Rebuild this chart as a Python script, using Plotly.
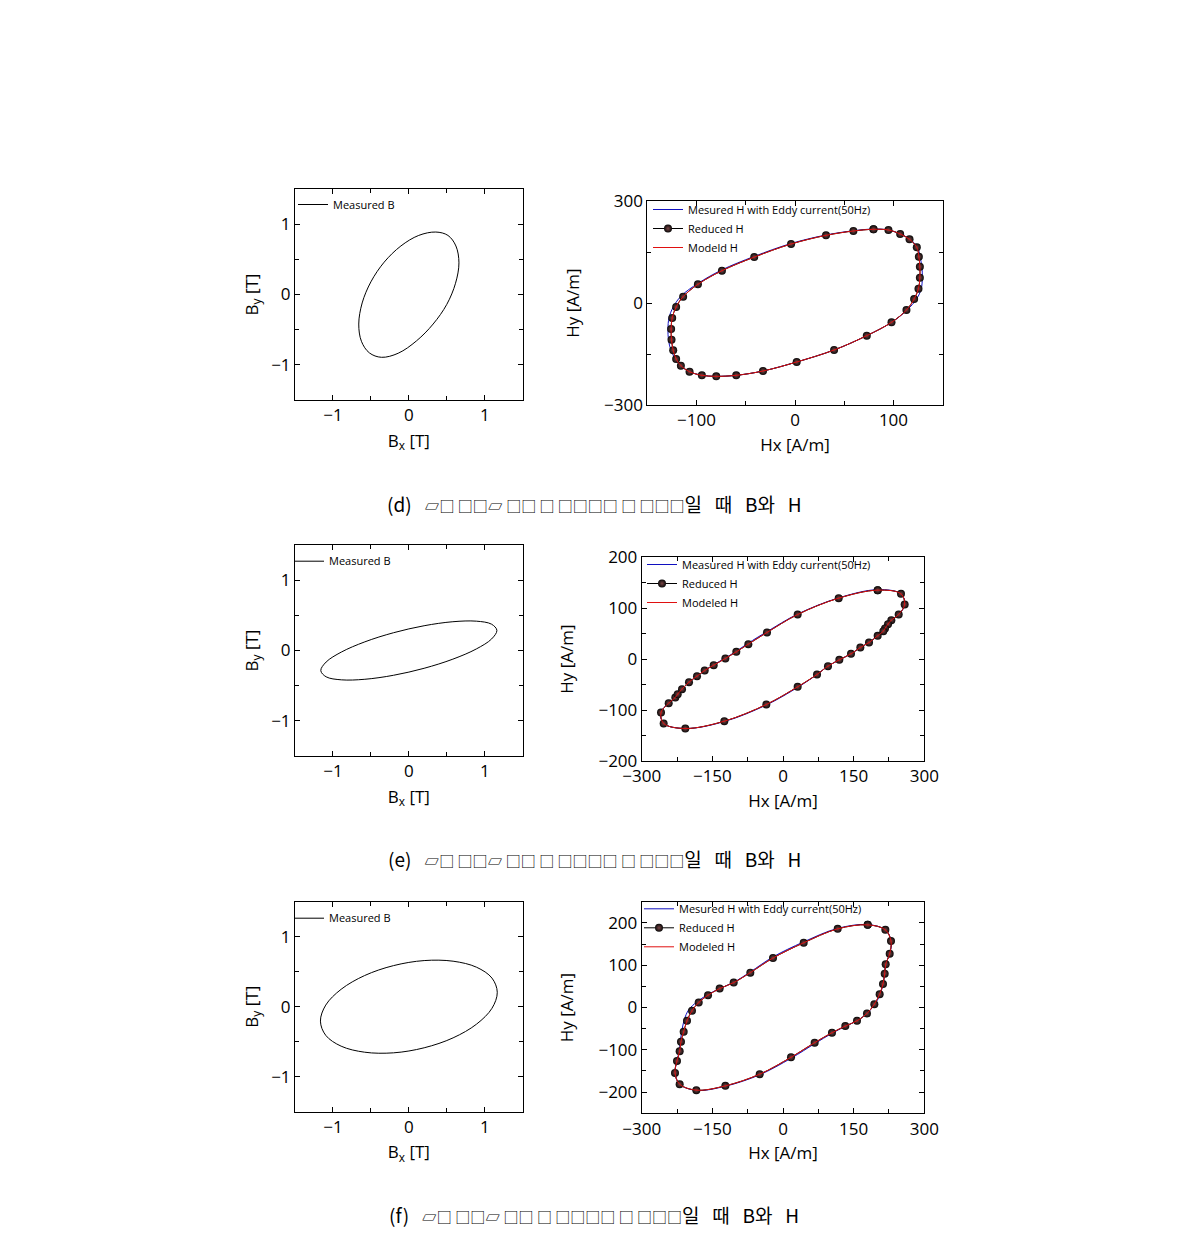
import plotly.graph_objects as go

# ---------------- (d) ----------------
bx_d = [0.66, 0.62, 0.515, 0.355, 0.13, -0.105, -0.325, -0.50, -0.615, -0.66, -0.625, -0.52,
        -0.36, -0.14, 0.10, 0.32, 0.50, 0.615]
by_d = [0.45, 0.69, 0.84, 0.888, 0.84, 0.69, 0.46, 0.18, -0.12, -0.42, -0.665, -0.83,
        -0.893, -0.835, -0.66, -0.42, -0.14, 0.16]

hx_red_d = [79.7, 59.3, 31.5, -4.0, -41.4, -74.2, -98.6, -113.6, -120.7, -124.7, -125.8, -125.4,
            -123.7, -120.7, -115.9, -107.1, -94.6, -80.0, -59.7, -32.5, 1.7, 39.7, 72.9, 98.0,
            113.2, 121.0, 125.4, 126.8, 126.8, 125.8, 123.7, 116.3, 106.8, 94.9]
hy_red_d = [216.7, 211.8, 199.0, 173.5, 135.0, 95.0, 55.0, 18.6, -11.8, -44.0, -76.5, -107.8,
            -139.0, -164.7, -184.3, -202.0, -212.7, -215.7, -212.7, -200.0, -173.5, -138.2, -96.0, -56.9,
            -20.6, 11.8, 42.0, 74.5, 106.9, 136.3, 163.7, 187.3, 203.0, 214.7]
hx_blue_d = [79.7, 59.3, 31.5, -4.0, -41.4, -74.2, -98.6, -115.5, -123.5, -128.0, -129.0, -128.5,
             -126.0, -121.5, -116.3, -107.1, -94.6, -80.0, -59.7, -32.5, 1.7, 39.7, 72.9, 98.0,
             113.8, 123.5, 128.2, 129.3, 128.8, 127.0, 124.5, 116.8, 106.8, 94.9]
hy_blue_d = [217.5, 212.5, 200.0, 175.0, 137.0, 97.5, 57.5, 21.0, -11.0, -44.0, -76.5, -107.8,
             -139.0, -164.7, -184.3, -202.0, -212.7, -215.7, -212.7, -200.0, -173.5, -138.2, -96.0, -56.9,
             -20.6, 11.8, 42.0, 74.5, 106.9, 136.3, 164.0, 187.3, 203.0, 214.7]

# ---------------- (e) ----------------
bx_e = [1.16, 1.09, 0.889, 0.58, 0.201, -0.201, -0.58, -0.889, -1.09, -1.16, -1.09, -0.889,
        -0.58, -0.201, 0.201, 0.58, 0.889, 1.09]
by_e = [0.286, 0.374, 0.417, 0.409, 0.352, 0.253, 0.123, -0.022, -0.164, -0.286, -0.374, -0.417,
        -0.409, -0.352, -0.253, -0.123, 0.022, 0.164]

hx_red_e = [201.0, 250.5, 258.3, 245.6, 230.0, 223.0, 216.6, 213.0, 201.0, 182.6, 164.2, 144.4, 119.6,
            95.5, 72.2, 31.1, -35.4, -124.6, -207.4, -253.4, -259.0, -242.7, -228.6, -223.6, -214.4,
            -199.6, -182.6, -166.3, -147.2, -122.4, -99.1, -73.6, -34.0, 31.1, 118.2]
hy_red_e = [135.5, 128.3, 107.4, 87.7, 76.6, 68.7, 60.2, 55.0, 45.8, 32.7, 22.9, 10.5, -1.3,
            -13.7, -30.1, -54.3, -89.0, -121.8, -136.2, -126.3, -104.7, -86.4, -75.3, -68.7, -58.9,
            -45.2, -33.4, -22.3, -11.8, 1.3, 14.4, 29.5, 52.4, 87.7, 119.8]
hx_blue_e = [201.0, 250.5, 258.8, 245.6, 230.0, 223.0, 216.6, 213.0, 201.0, 182.6, 164.2, 144.4, 119.6,
             95.5, 72.2, 31.1, -35.4, -124.6, -207.4, -253.4, -259.5, -242.7, -228.6, -223.6, -214.4,
             -199.6, -182.6, -166.3, -147.2, -122.4, -99.1, -73.6, -34.0, 31.1, 118.2]
hy_blue_e = [136.5, 128.3, 107.4, 87.7, 76.6, 68.7, 60.2, 55.0, 45.8, 32.7, 22.9, 10.5, -1.3,
             -13.7, -30.1, -55.5, -90.0, -122.5, -136.2, -126.3, -104.7, -86.4, -75.3, -68.7, -58.9,
             -45.2, -33.4, -22.3, -11.0, 2.3, 15.5, 31.5, 54.0, 88.5, 120.3]

# ---------------- (f) ----------------
bx_f = [1.165, 1.095, 0.892, 0.583, 0.202, -0.202, -0.583, -0.892, -1.095, -1.165, -1.095, -0.892,
        -0.583, -0.202, 0.202, 0.583, 0.892, 1.095]
by_f = [0.206, 0.409, 0.564, 0.650, 0.659, 0.587, 0.445, 0.249, 0.023, -0.206, -0.409, -0.564,
        -0.650, -0.659, -0.587, -0.445, -0.249, -0.023]

hx_red_f = [179.8, 217.3, 229.3, 226.5, 218.0, 215.9, 212.3, 205.2, 193.9, 178.3, 157.1, 132.3, 104.0,
            67.2, 17.0, -49.5, -122.4, -184.0, -219.4, -229.3, -225.1, -219.4, -216.6, -210.9, -203.8,
            -193.2, -179.0, -159.2, -134.5, -104.7, -69.4, -21.2, 43.9, 116.1]
hy_red_f = [195.3, 183.5, 156.9, 127.1, 102.0, 80.0, 55.7, 31.4, 7.8, -14.1, -31.4, -43.9, -59.6,
            -83.1, -117.6, -157.6, -185.1, -195.3, -181.2, -154.5, -126.3, -103.5, -80.8, -57.3, -31.4,
            -7.8, 11.8, 29.0, 44.7, 58.8, 82.4, 116.9, 152.9, 185.9]
hx_blue_f = [179.8, 217.3, 229.8, 226.5, 218.0, 215.9, 212.3, 206.5, 195.0, 178.3, 157.1, 132.3, 104.0,
             67.2, 17.0, -49.5, -122.4, -184.0, -219.4, -229.3, -225.1, -220.5, -218.5, -215.0, -210.0,
             -200.0, -183.0, -160.5, -134.5, -104.7, -69.4, -21.2, 43.9, 116.1]
hy_blue_f = [196.0, 183.5, 156.9, 127.1, 102.0, 80.0, 55.7, 31.4, 7.8, -14.1, -31.4, -44.5, -61.0,
             -85.5, -120.0, -159.0, -186.0, -195.8, -181.2, -154.5, -126.3, -103.5, -80.8, -57.3, -30.0,
             -5.0, 13.0, 30.0, 44.7, 59.5, 84.0, 119.5, 155.0, 187.0]

legend_b = "Measured B"
legend_h = {
    "d": ["Mesured H with Eddy current(50Hz)", "Reduced H", "Modeld H"],
    "e": ["Measured H with Eddy current(50Hz)", "Reduced H", "Modeled H"],
    "f": ["Mesured H with Eddy current(50Hz)", "Reduced H", "Modeled H"],
}
NB = "\u00a0"
caption_boxes = "▱□ □□▱ □□ □ □□□□ □ □□□"
caption_tail = "일" + NB * 3 + "때" + NB * 3 + "B와" + NB * 3 + "H"
captions = ["(d)", "(e)", "(f)"]


def closed(a):
    return list(a) + [a[0]]


fig = go.Figure()

panels = [
    ("d", bx_d, by_d, hx_blue_d, hy_blue_d, hx_red_d, hy_red_d),
    ("e", bx_e, by_e, hx_blue_e, hy_blue_e, hx_red_e, hy_red_e),
    ("f", bx_f, by_f, hx_blue_f, hy_blue_f, hx_red_f, hy_red_f),
]

for i, (key, bx, by, hxb, hyb, hxr, hyr) in enumerate(panels):
    la = 2 * i + 1
    ra = 2 * i + 2
    lsuf = "" if la == 1 else str(la)
    rsuf = str(ra)
    lleg = "legend" if la == 1 else "legend" + str(la)
    rleg = "legend" + str(ra)
    fig.add_trace(go.Scatter(x=closed(bx), y=closed(by), mode="lines", name=legend_b,
                             line=dict(color="black", width=1, shape="spline", smoothing=1),
                             xaxis="x" + lsuf, yaxis="y" + lsuf, legend=lleg))
    fig.add_trace(go.Scatter(x=closed(hxb), y=closed(hyb), mode="lines", name=legend_h[key][0],
                             line=dict(color="#1010c0", width=1, shape="spline", smoothing=1),
                             xaxis="x" + rsuf, yaxis="y" + rsuf, legend=rleg))
    fig.add_trace(go.Scatter(x=closed(hxr), y=closed(hyr), mode="lines+markers", name=legend_h[key][1],
                             line=dict(color="black", width=1, shape="spline", smoothing=1),
                             marker=dict(size=8, color="#080808", line=dict(width=0),
                                         gradient=dict(type="radial", color="#7a4646")),
                             xaxis="x" + rsuf, yaxis="y" + rsuf, legend=rleg))
    fig.add_trace(go.Scatter(x=closed(hxr), y=closed(hyr), mode="lines", name=legend_h[key][2],
                             line=dict(color="#e01010", width=1, shape="spline", smoothing=1),
                             xaxis="x" + rsuf, yaxis="y" + rsuf, legend=rleg))

H = 1238.0
W = 1190.0


def xd(a, b):
    return [a / W, b / W]


def yd(top, bottom):
    return [1 - bottom / H, 1 - top / H]


base = dict(showline=True, linecolor="black", linewidth=1, mirror="ticks", ticks="inside",
            ticklen=5, tickcolor="black", tickwidth=1, showgrid=False, zeroline=False,
            tickfont=dict(size=17, color="black", family="Open Sans"),
            title_font=dict(size=17, color="black", family="Open Sans"))


def ax(domain, anchor, rng, dtick, mdtick, title, standoff):
    d = dict(base)
    d.update(domain=domain, anchor=anchor, range=rng, dtick=dtick, tick0=0,
             minor=dict(ticks="inside", ticklen=4, dtick=mdtick, tick0=0, tickcolor="black", showgrid=False),
             title=dict(text=title, standoff=standoff))
    return d


left_x = xd(295, 522.7)
left_y = [yd(189, 400), yd(545, 756), yd(901.7, 1111.7)]
right_x = [xd(647.3, 942.7), xd(641.7, 924.3), xd(641.7, 924.3)]
right_y = [yd(201, 405), yd(557.3, 761), yd(901.7, 1113.3)]
right_xr = [([-150, 150], 100, 50), ([-300, 300], 150, 75), ([-300, 300], 150, 75)]
right_yr = [([-300, 300], 300, 150), ([-200, 200], 100, 50), ([-250, 250], 100, 50)]

layout = dict(width=1190, height=1238, margin=dict(l=0, r=0, t=0, b=0, autoexpand=False),
              paper_bgcolor="white", plot_bgcolor="white", showlegend=True,
              font=dict(family="Open Sans", color="black"))

for i in range(3):
    la = 2 * i + 1
    ra = 2 * i + 2
    lsuf = "" if la == 1 else str(la)
    layout["xaxis" + lsuf] = ax(left_x, "y" + lsuf, [-1.5, 1.5], 1, 0.5, "B<sub>x</sub> [T]", 9)
    layout["yaxis" + lsuf] = ax(left_y[i], "x" + lsuf, [-1.5, 1.5], 1, 0.5, "B<sub>y</sub> [T]", 8)
    layout["xaxis" + str(ra)] = ax(right_x[i], "y" + str(ra), right_xr[i][0], right_xr[i][1],
                                   right_xr[i][2], "Hx [A/m]", 8)
    layout["yaxis" + str(ra)] = ax(right_y[i], "x" + str(ra), right_yr[i][0], right_yr[i][1],
                                   right_yr[i][2], "Hy [A/m]", 20)

leg_pos = {
    1: (293, 190), 2: (648, 195),
    3: (289, 546.7), 4: (642, 550),
    5: (289, 903.7), 6: (639, 894.3),
}
for n, (px, py) in leg_pos.items():
    name = "legend" if n == 1 else "legend" + str(n)
    layout[name] = dict(x=px / W, y=1 - py / H, xanchor="left", yanchor="top",
                        bgcolor="rgba(0,0,0,0)", borderwidth=0, tracegroupgap=0,
                        font=dict(size=11, color="black", family="Open Sans"))

fig.update_layout(**layout)

cap_y = [503, 858, 1214]
for c, yy in zip(captions, cap_y):
    fig.add_annotation(text=c + NB * 3 + "<span style='font-size:15px'>" + caption_boxes + "</span>" + caption_tail,
                       xref="paper", yref="paper",
                       x=594 / W, y=1 - yy / H, showarrow=False, xanchor="center", yanchor="middle",
                       font=dict(size=19, color="black", family="Noto Sans CJK KR"))

fig.write_html("out.html")
